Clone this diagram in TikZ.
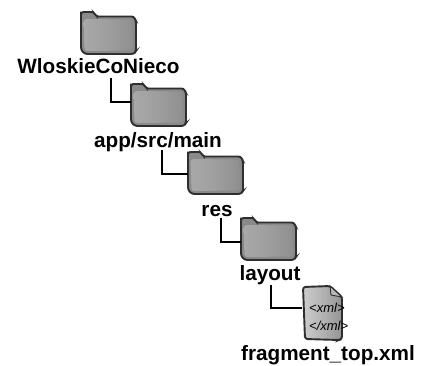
\documentclass[tikz,border=0pt]{standalone}
\usepackage{fontspec}
\setmainfont{Liberation Sans}
\definecolor{edge}{HTML}{2E2E2E}
\tikzset{
  x=1pt,y=-1pt,
  lbl/.style={font=\fontsize{20.7}{21}\selectfont\bfseries,anchor=base,inner sep=0pt,text=black},
  xmltxt/.style={font=\fontsize{13}{13}\selectfont\itshape,anchor=base west,inner sep=0pt,text=black},
  conn/.style={draw=black,line width=2.4pt,miter limit=10},
  pics/folder/.style={code={
    \path[draw=edge,line width=1.9pt,rounded corners=2.5pt,fill=black!46]
      (1,3) -- (1,1) -- (14,1) -- (16,5.5) -- (54,5.5) -- (56,10) -- (56,40) -- (54,43) -- (5,43) -- (1,39) -- cycle;
    \path[left color=black!34,right color=black!44,middle color=black!38,rounded corners=3pt]
      (3.5,8) -- (52,8.5) -- (53,39.5) -- (4.5,40) -- cycle;
  }},
  pics/xmldoc/.style={code={
    \path[draw=edge,line width=1.9pt,rounded corners=2.5pt,left color=black!20,right color=black!42,middle color=black!30]
      (1,2) -- (28,1) -- (40,12) -- (40,54) -- (37,55) -- (3,54) -- cycle;
    \path[draw=edge,line width=.9pt,fill=black!28] (28,1) -- (29,10) -- (40,12) -- cycle;
  }}
}
\begin{document}
\begin{tikzpicture}
\useasboundingbox (0,0) rectangle (426,365);
\pic at (80,11) {folder};
\pic at (130,83) {folder};
\pic at (187,151) {folder};
\pic at (240,217) {folder};
\pic at (302,285) {xmldoc};
\coordinate (f2) at (131,102);
\coordinate (f3) at (188,174);
\coordinate (f4) at (241,242);
\coordinate (f5) at (302,308);
\node[lbl] (l1) at (98.5,73) {WloskieCoNieco};
\node[lbl] (l2) at (158,147) {app/src/main};
\node[lbl] (l3) at (217,216) {res};
\node[lbl] (l4) at (270,280) {layout};
\node[lbl] (l5) at (328,360) {fragment\_top.xml};
\node[xmltxt] (x1) at (309,312) {<xml>};
\node[xmltxt] (x2) at (309,330) {</xml>};
\coordinate (c1) at (111,78);
\coordinate (c2) at (162,150);
\coordinate (c3) at (221,218);
\coordinate (c4) at (271,285);
\draw[conn] (c1) |- (f2);
\draw[conn] (c2) |- (f3);
\draw[conn] (c3) |- (f4);
\draw[conn] (c4) |- (f5);
\end{tikzpicture}
\end{document}
